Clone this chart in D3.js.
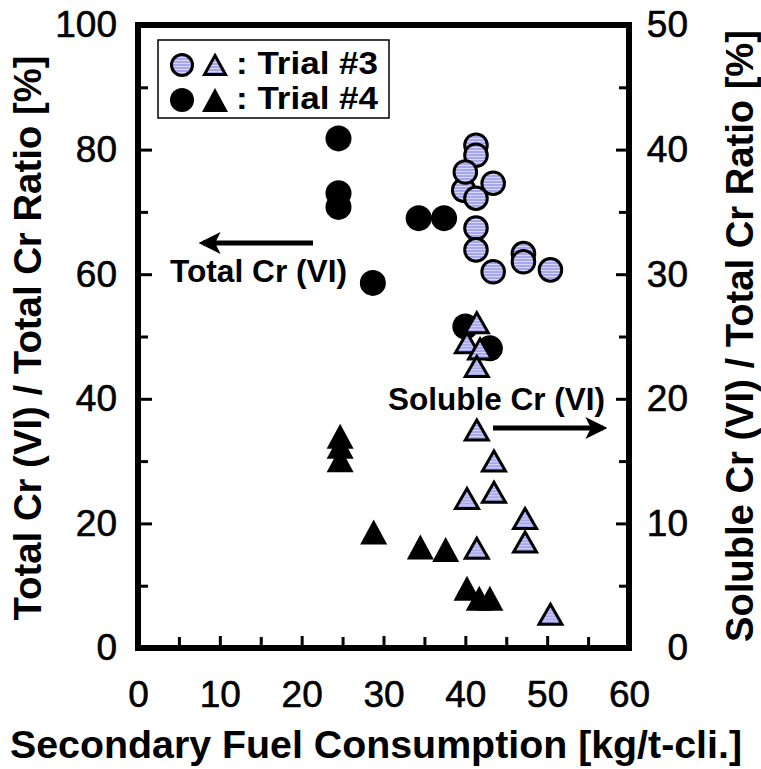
<!DOCTYPE html>
<html>
<head>
<meta charset="utf-8">
<script src="https://cdn.jsdelivr.net/npm/d3@7"></script>
<style>
  html, body { margin: 0; padding: 0; background: #fff; }
  svg { display: block; font-family: "Liberation Sans", Arial, sans-serif; }
</style>
</head>
<body>
<svg id="chart" width="761" height="769"></svg>
<script>
// ---- Data ----
// Trial #3, Total Cr(VI)/Total Cr ratio [%] (left axis) - lavender circles
const trial3TotalX = [41.3, 41.3, 39.8, 40.0, 43.4, 41.3, 41.3, 41.3, 43.4, 47.1, 47.1, 50.4];
const trial3TotalY = [80.7, 79.1, 73.5, 76.4, 74.6, 72.2, 67.4, 63.9, 60.4, 63.3, 62.0, 60.7];
// Trial #4, Total Cr(VI)/Total Cr ratio [%] (left axis) - black circles
const trial4TotalX = [24.5, 24.5, 24.5, 28.7, 34.3, 37.4, 40.0, 43.0];
const trial4TotalY = [81.8, 73.0, 70.8, 58.6, 69.0, 69.0, 51.6, 48.1];
// Trial #3, Soluble Cr(VI)/Total Cr ratio [%] (right axis) - lavender triangles
const trial3SolX = [41.4, 40.2, 41.8, 41.4, 41.4, 43.5, 43.5, 40.2, 47.3, 47.3, 41.4, 50.4];
const trial3SolY = [26.1, 24.5, 24.0, 22.6, 17.5, 15.0, 12.5, 12.0, 10.4, 8.5, 8.0, 2.7];
// Trial #4, Soluble Cr(VI)/Total Cr ratio [%] (right axis) - black triangles
const trial4SolX = [24.7, 24.7, 24.7, 28.8, 34.5, 37.6, 40.2, 41.7, 43.0];
const trial4SolY = [17.0, 16.2, 15.1, 9.3, 8.1, 7.9, 4.8, 4.0, 4.0];

const xTicks = [0, 10, 20, 30, 40, 50, 60];
const xMinorTicks = [5, 15, 25, 35, 45, 55];
const yLeftTicks = [0, 20, 40, 60, 80, 100];
const yLeftMinorTicks = [10, 30, 50, 70, 90];
const yRightTicks = [0, 10, 20, 30, 40, 50];
const yRightMinorTicks = [5, 15, 25, 35, 45];

const legendLabels = [": Trial #3", ": Trial #4"];
const xTitle = "Secondary Fuel Consumption [kg/t-cli.]";
const yLeftTitle = "Total Cr (VI) / Total Cr Ratio [%]";
const yRightTitle = "Soluble Cr (VI) / Total Cr Ratio [%]";
const noteTotal = "Total Cr (VI)";
const noteSoluble = "Soluble Cr (VI)";

// ---- Layout ----
const L = 138, R = 629, T = 25, B = 648;
const svg = d3.select("#chart");
const FONT = '"Liberation Sans", Arial, sans-serif';

const x = d3.scaleLinear().domain([0, 60]).range([L, R]);
const yL = d3.scaleLinear().domain([0, 100]).range([B, T]);
const yR = d3.scaleLinear().domain([0, 50]).range([B, T]);

// pattern for lavender markers
const defs = svg.append("defs");
const pat = defs.append("pattern").attr("id", "lav").attr("patternUnits", "userSpaceOnUse")
  .attr("width", 6).attr("height", 3);
pat.append("rect").attr("width", 6).attr("height", 3).attr("fill", "#a6a6ee");
pat.append("rect").attr("width", 6).attr("height", 1).attr("fill", "#d8d8fa");

defs.append("marker").attr("id", "arrow").attr("viewBox", "0 0 10 10")
  .attr("refX", 8).attr("refY", 5).attr("markerWidth", 4.4).attr("markerHeight", 4.4)
  .attr("markerUnits", "strokeWidth").attr("orient", "auto")
  .append("path").attr("d", "M0,0 L10,5 L0,10 L2.5,5 Z").attr("fill", "#000");

// ---- Axes (ticks inward) ----
function styleAxis(g) {
  g.select(".domain").remove();
  g.selectAll(".tick line").attr("stroke", "#000").attr("stroke-width", 3);
  g.selectAll("text").attr("fill", "#000").attr("stroke", "#000").attr("stroke-width", 0.6)
    .style("font-family", FONT).style("font-size", "37px");
}
// bottom
svg.append("g").attr("transform", `translate(0,${B})`)
  .call(d3.axisBottom(x).tickValues(xTicks).tickSize(-12).tickPadding(33).tickFormat(d3.format("d")))
  .call(styleAxis);
svg.append("g").attr("transform", `translate(0,${B})`)
  .call(d3.axisBottom(x).tickValues(xMinorTicks).tickSize(-11).tickFormat(""))
  .call(styleAxis);
// left
svg.append("g").attr("transform", `translate(${L},0)`)
  .call(d3.axisLeft(yL).tickValues(yLeftTicks).tickSize(-14).tickPadding(21).tickFormat(d3.format("d")))
  .call(styleAxis);
svg.append("g").attr("transform", `translate(${L},0)`)
  .call(d3.axisLeft(yL).tickValues(yLeftMinorTicks).tickSize(-10).tickFormat(""))
  .call(styleAxis);
// right (labels right-aligned like the reference)
const gR = svg.append("g").attr("transform", `translate(${R},0)`)
  .call(d3.axisRight(yR).tickValues(yRightTicks).tickSize(-13).tickFormat(d3.format("d")))
  .call(styleAxis);
gR.selectAll("text").attr("x", 59).attr("text-anchor", "end");
svg.append("g").attr("transform", `translate(${R},0)`)
  .call(d3.axisRight(yR).tickValues(yRightMinorTicks).tickSize(-10).tickFormat(""))
  .call(styleAxis);

// frame
svg.append("rect").attr("x", L).attr("y", T).attr("width", R - L).attr("height", B - T)
  .attr("fill", "none").attr("stroke", "#000").attr("stroke-width", 6);

// ---- Markers ----
const tri = (w, h) => `M0,${-h / 2}L${w / 2},${h / 2}L${-w / 2},${h / 2}Z`;
const zip = (a, b) => a.map((v, i) => [v, b[i]]);

svg.append("g").selectAll("circle").data(zip(trial4TotalX, trial4TotalY)).join("circle")
  .attr("cx", d => x(d[0])).attr("cy", d => yL(d[1])).attr("r", 13).attr("fill", "#000");

svg.append("g").selectAll("circle").data(zip(trial3TotalX, trial3TotalY)).join("circle")
  .attr("cx", d => x(d[0])).attr("cy", d => yL(d[1])).attr("r", 11.3)
  .attr("fill", "url(#lav)").attr("stroke", "#000").attr("stroke-width", 3);

svg.append("g").selectAll("path").data(zip(trial4SolX, trial4SolY)).join("path")
  .attr("transform", d => `translate(${x(d[0])},${yR(d[1])})`)
  .attr("d", tri(27, 25)).attr("fill", "#000");

svg.append("g").selectAll("path").data(zip(trial3SolX, trial3SolY)).join("path")
  .attr("transform", d => `translate(${x(d[0])},${yR(d[1])})`)
  .attr("d", tri(23, 20)).attr("fill", "url(#lav)").attr("stroke", "#000")
  .attr("stroke-width", 3).attr("stroke-linejoin", "miter");

// ---- Legend ----
const lg = svg.append("g");
lg.append("rect").attr("x", 158).attr("y", 40).attr("width", 231).attr("height", 78)
  .attr("fill", "#fff").attr("stroke", "#000").attr("stroke-width", 1.5);
const rows = [65, 100];
lg.append("circle").attr("cx", 182).attr("cy", rows[0]).attr("r", 10.5)
  .attr("fill", "url(#lav)").attr("stroke", "#000").attr("stroke-width", 3);
lg.append("path").attr("transform", `translate(215,${rows[0]})`).attr("d", tri(21, 19))
  .attr("fill", "url(#lav)").attr("stroke", "#000").attr("stroke-width", 3);
lg.append("circle").attr("cx", 182).attr("cy", rows[1]).attr("r", 12).attr("fill", "#000");
lg.append("path").attr("transform", `translate(215,${rows[1]})`).attr("d", tri(26, 24)).attr("fill", "#000");
lg.selectAll("text.lgt").data(legendLabels).join("text").attr("class", "lgt")
  .attr("x", 236).attr("y", (d, i) => rows[i] + 9)
  .attr("textLength", 142).attr("lengthAdjust", "spacingAndGlyphs")
  .style("font-family", FONT).style("font-size", "32px").style("font-weight", "bold")
  .text(d => d);

// ---- Annotations ----
svg.append("line").attr("x1", 313).attr("y1", 243).attr("x2", 203).attr("y2", 243)
  .attr("stroke", "#000").attr("stroke-width", 5).attr("marker-end", "url(#arrow)");
svg.append("text").attr("x", 170).attr("y", 282).attr("textLength", 177).attr("lengthAdjust", "spacingAndGlyphs")
  .style("font-family", FONT).style("font-size", "32px").style("font-weight", "bold").text(noteTotal);
svg.append("line").attr("x1", 493).attr("y1", 428).attr("x2", 603).attr("y2", 428)
  .attr("stroke", "#000").attr("stroke-width", 5).attr("marker-end", "url(#arrow)");
svg.append("text").attr("x", 388).attr("y", 410).attr("textLength", 217).attr("lengthAdjust", "spacingAndGlyphs")
  .style("font-family", FONT).style("font-size", "32px").style("font-weight", "bold").text(noteSoluble);

// ---- Axis titles ----
svg.append("text").attr("x", 376).attr("y", 758).attr("text-anchor", "middle")
  .attr("textLength", 732).attr("lengthAdjust", "spacingAndGlyphs")
  .style("font-family", FONT).style("font-size", "38px").style("font-weight", "bold").text(xTitle);
svg.append("text").attr("transform", "translate(41,338) rotate(-90)").attr("text-anchor", "middle")
  .attr("textLength", 565).attr("lengthAdjust", "spacingAndGlyphs")
  .style("font-family", FONT).style("font-size", "38px").style("font-weight", "bold").text(yLeftTitle);
svg.append("text").attr("transform", "translate(753,336) rotate(-90)").attr("text-anchor", "middle")
  .attr("textLength", 612).attr("lengthAdjust", "spacingAndGlyphs")
  .style("font-family", FONT).style("font-size", "38px").style("font-weight", "bold").text(yRightTitle);
</script>
</body>
</html>
